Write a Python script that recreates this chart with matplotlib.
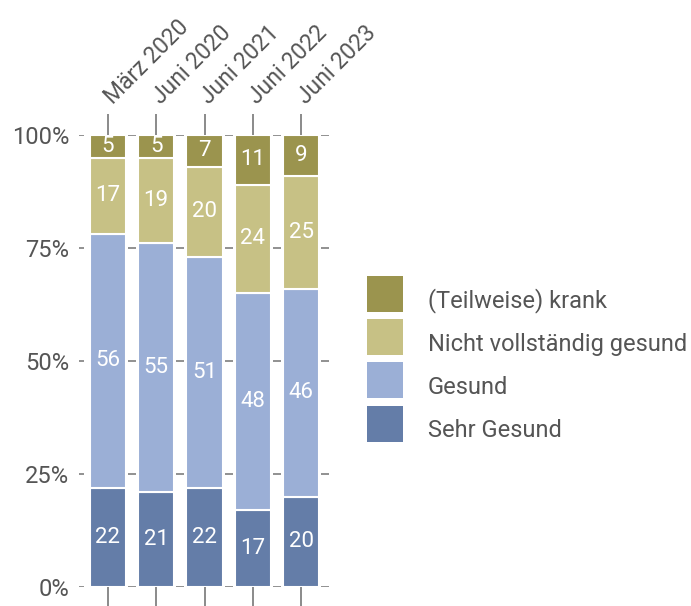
import numpy as np
import matplotlib.pyplot as plt
from matplotlib.lines import Line2D

plt.rcParams['font.family'] = ['Roboto', 'DejaVu Sans']

periods = ["März 2020", "Juni 2020", "Juni 2021", "Juni 2022", "Juni 2023"]
sehr_gesund = [22, 21, 22, 17, 20]
gesund = [56, 55, 51, 48, 46]
nicht_voll = [17, 19, 20, 24, 25]
krank = [5, 5, 7, 11, 9]

series = [
    ("Sehr Gesund", sehr_gesund, "#647DA8"),
    ("Gesund", gesund, "#9BAFD6"),
    ("Nicht vollständig gesund", nicht_voll, "#C7C185"),
    ("(Teilweise) krank", krank, "#9B944E"),
]

fig = plt.figure(figsize=(6.91, 6.06), dpi=100)
ax = fig.add_axes([0.1143, 0.0314, 0.3633, 0.7459])

x = np.arange(len(periods))
bottom = np.zeros(len(periods))
handles = []
for name, vals, color in series:
    vals = np.array(vals, dtype=float)
    ax.bar(x, vals, bottom=bottom, width=0.75, color=color,
           edgecolor="white", linewidth=1.5, zorder=3)
    handles.append(Line2D([], [], marker='s', linestyle='none', markersize=25.9,
                          markerfacecolor=color, markeredgewidth=0, label=name))
    for xi, v, b in zip(x, vals, bottom):
        ax.text(xi, b + v / 2, f"{v:.0f}", ha='center', va='center',
                fontsize=16, color='white', zorder=4)
    bottom += vals

# short dashed grid marks between the bars
yt = [0, 25, 50, 75, 100]
for y in yt:
    ax.hlines(y, -0.6, -0.5, color="#888888", lw=1.3, zorder=1)
    for k in range(len(periods)):
        ax.hlines(y, k + 0.5 - 0.085, k + 0.5 + 0.085, color="#888888", lw=1.3, zorder=1)

ax.set_xlim(-0.6, 4.6)
ax.set_ylim(0, 100)
ax.set_yticks(yt, [f"{v}%" for v in yt])
ax.set_xticks(x, periods)
for s in ax.spines.values():
    s.set_visible(False)

ax.tick_params(axis='y', length=0, pad=7, labelsize=17, labelcolor="#555555")
ax.tick_params(axis='x', top=True, bottom=True, labeltop=True, labelbottom=False,
               length=15, width=1.2, color="#777777", pad=10,
               labelsize=16.5, labelcolor="#555555")
for lab in ax.get_xticklabels():
    lab.set_rotation(45)
    lab.set_ha('left')
    lab.set_va('center')
    lab.set_rotation_mode('anchor')

fig.legend(handles=handles[::-1], loc='center left', bbox_to_anchor=(0.531, 0.398),
           frameon=False, fontsize=17, handlelength=1.52, handleheight=2.12,
           labelspacing=0.2, handletextpad=1.06, labelcolor="#555555",
           borderpad=0, borderaxespad=0)

fig.savefig("out.png", dpi=100)
